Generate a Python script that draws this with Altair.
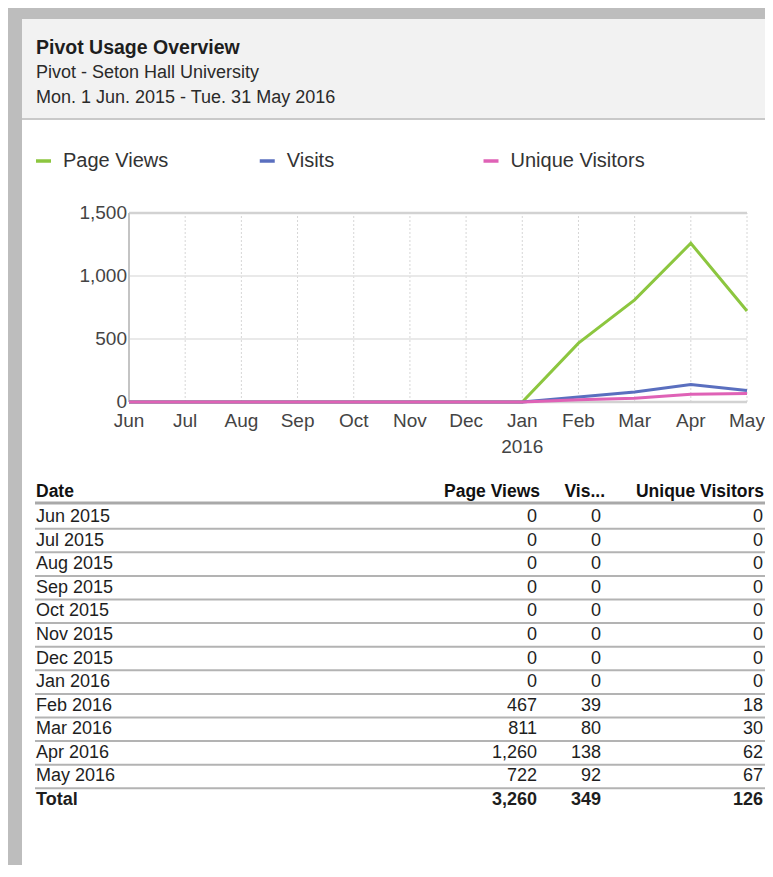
import altair as alt
import pandas as pd

# ---------------- data ----------------
title_text = "Pivot Usage Overview"
subtitle_1 = "Pivot - Seton Hall University"
subtitle_2 = "Mon.  1 Jun. 2015 - Tue. 31 May 2016"

series = ["Page Views", "Visits", "Unique Visitors"]
series_colors = ["#8cc63f", "#5a6fbf", "#df62b6"]

months = ["Jun", "Jul", "Aug", "Sep", "Oct", "Nov", "Dec", "Jan", "Feb", "Mar", "Apr", "May"]
year_label = "2016"
row_labels = ["Jun 2015", "Jul 2015", "Aug 2015", "Sep 2015", "Oct 2015", "Nov 2015",
              "Dec 2015", "Jan 2016", "Feb 2016", "Mar 2016", "Apr 2016", "May 2016"]

page_views = [0, 0, 0, 0, 0, 0, 0, 0, 467, 811, 1260, 722]
visits = [0, 0, 0, 0, 0, 0, 0, 0, 39, 80, 138, 92]
unique_visitors = [0, 0, 0, 0, 0, 0, 0, 0, 18, 30, 62, 67]

total_label = "Total"
totals = [3260, 349, 126]

y_ticks = [0, 500, 1000, 1500]
table_headers = ["Date", "Page Views", "Vis...", "Unique Visitors"]

# ---------------- tables ----------------
line_rows = []
for s, vals in zip(series, [page_views, visits, unique_visitors]):
    for i, (m, v) in enumerate(zip(months, vals)):
        line_rows.append({"month": m, "series": s, "value": v, "i": i})
line_df = pd.DataFrame(line_rows)

legend_df = pd.DataFrame({"series": series})
month_df = pd.DataFrame({"month": months})
tick_df = pd.DataFrame({"tick": y_ticks})

tbl_df = pd.DataFrame({"row": row_labels, "pv": page_views, "vis": visits, "uv": unique_visitors})
tot_df = pd.DataFrame({"row": [total_label], "pv": [totals[0]], "vis": [totals[1]], "uv": [totals[2]]})
all_rows = row_labels + [total_label]
sep_df = pd.DataFrame({"row": all_rows[1:]})

FONT = "Liberation Sans, Arial, sans-serif"
W, H = 757, 857

# ---------------- scales ----------------
xs = alt.Scale(type="point", domain=months, range=[121, 739], padding=0)
ys = alt.Scale(type="linear", domain=[0, 1500], range=[394, 205], zero=False, nice=False)
cs = alt.Scale(domain=series, range=series_colors)
leg_x = alt.Scale(type="point", domain=series, range=[35.5, 483], padding=0)
row_y = alt.Scale(type="band", domain=all_rows, range=[497.2, 803.8], paddingInner=0, paddingOuter=0)

base = alt.Chart(pd.DataFrame({"a": [0]}))

# frame and header
frame_top = base.mark_rect(color="#bdbdbd").encode(
    x=alt.value(0), x2=alt.value(W), y=alt.value(0), y2=alt.value(11))
frame_left = base.mark_rect(color="#bdbdbd").encode(
    x=alt.value(0), x2=alt.value(14), y=alt.value(0), y2=alt.value(H))
header_bg = base.mark_rect(color="#f2f2f2").encode(
    x=alt.value(14), x2=alt.value(W), y=alt.value(11), y2=alt.value(110))
header_line = base.mark_rule(color="#c9c9c9", strokeWidth=2).encode(
    x=alt.value(14), x2=alt.value(W), y=alt.value(111))

title = base.mark_text(align="left", baseline="middle", font=FONT, fontSize=19.5,
                       fontWeight="bold", color="#1e1e1e", text=title_text).encode(
    x=alt.value(28), y=alt.value(40))
sub1 = base.mark_text(align="left", baseline="middle", font=FONT, fontSize=18,
                      color="#2a2a2a", text=subtitle_1).encode(x=alt.value(28), y=alt.value(65))
sub2 = base.mark_text(align="left", baseline="middle", font=FONT, fontSize=18,
                      color="#2a2a2a", text=subtitle_2).encode(x=alt.value(28), y=alt.value(90))

# legend
leg_dash = alt.Chart(legend_df).mark_rule(strokeWidth=3.5, xOffset=-7.5, x2Offset=7.5).encode(
    x=alt.X("series:N", scale=leg_x, axis=None),
    x2="series:N",
    y=alt.value(153),
    color=alt.Color("series:N", scale=cs, legend=None),
)
leg_text = alt.Chart(legend_df).mark_text(align="left", baseline="middle", dx=19.5,
                                          font=FONT, fontSize=20, color="#333333").encode(
    x=alt.X("series:N", scale=leg_x, axis=None),
    y=alt.value(153),
    text="series:N",
)

# plot grid
vgrid = alt.Chart(month_df).mark_rule(color="#d6d6d6", strokeWidth=1, strokeDash=[2, 2]).encode(
    x=alt.X("month:O", scale=xs, axis=None),
    y=alt.Y(datum=0, type="quantitative", scale=ys, axis=None),
    y2=alt.Y2(datum=1500),
)
hgrid = alt.Chart(tick_df).mark_rule(color="#e2e2e2", strokeWidth=1.5).encode(
    y=alt.Y("tick:Q", scale=ys, axis=None),
    x=alt.X(datum="Jun", type="ordinal", scale=xs, axis=None),
    x2=alt.X2(datum="May"),
)
edge_df = pd.DataFrame({"tick": [y_ticks[0], y_ticks[-1]]})
hedge = alt.Chart(edge_df).mark_rule(color="#d2d2d2", strokeWidth=2.5).encode(
    y=alt.Y("tick:Q", scale=ys, axis=None),
    x=alt.X(datum="Jun", type="ordinal", scale=xs, axis=None),
    x2=alt.X2(datum="May"),
)
ydomain = base.mark_rule(color="#c4c4c4", strokeWidth=2).encode(
    x=alt.X(datum="Jun", type="ordinal", scale=xs, axis=None),
    y=alt.Y(datum=0, type="quantitative", scale=ys, axis=None),
    y2=alt.Y2(datum=1500),
)

lines = alt.Chart(line_df).mark_line(strokeWidth=3).encode(
    x=alt.X("month:O", scale=xs, axis=None),
    y=alt.Y("value:Q", scale=ys, axis=None),
    color=alt.Color("series:N", scale=cs, legend=None),
    order=alt.Order("i:Q"),
)

ylabels = alt.Chart(tick_df).mark_text(align="right", baseline="middle", font=FONT,
                                       fontSize=19, color="#444444").encode(
    y=alt.Y("tick:Q", scale=ys, axis=None),
    x=alt.value(119),
    text=alt.Text("tick:Q", format=","),
)
xlabels = alt.Chart(month_df).mark_text(align="center", baseline="middle", font=FONT,
                                        fontSize=19, color="#444444").encode(
    x=alt.X("month:O", scale=xs, axis=None),
    y=alt.value(413),
    text="month:N",
)
yearlabel = base.mark_text(align="center", baseline="middle", font=FONT, fontSize=19,
                           color="#444444", text=year_label).encode(
    x=alt.X(datum="Jan", type="ordinal", scale=xs, axis=None),
    y=alt.value(439),
)

# table
TX = {"date": 28, "pv": 529, "vis": 593, "uv": 755}
HX = {"date": 28, "pv": 532, "vis": 597, "uv": 756}
hdr_layers = []
for key, label, align in zip(["date", "pv", "vis", "uv"], table_headers,
                             ["left", "right", "right", "right"]):
    hdr_layers.append(base.mark_text(align=align, baseline="middle", font=FONT, fontSize=17.5,
                                     fontWeight="bold", color="#111111", text=label).encode(
        x=alt.value(HX[key]), y=alt.value(484)))

hdr_rule = base.mark_rule(color="#a9a9a9", strokeWidth=3).encode(
    x=alt.value(27), x2=alt.value(W), y=alt.value(495))
sep_rules = alt.Chart(sep_df).mark_rule(color="#b3b3b3", strokeWidth=2).encode(
    y=alt.Y("row:N", scale=row_y, axis=None, bandPosition=0),
    x=alt.value(27), x2=alt.value(W),
)


def table_text(df, weight):
    layers = []
    layers.append(alt.Chart(df).mark_text(align="left", baseline="middle", font=FONT,
                                          fontSize=18, fontWeight=weight, color="#1e1e1e").encode(
        y=alt.Y("row:N", scale=row_y, axis=None, bandPosition=0.5),
        x=alt.value(TX["date"]), text="row:N"))
    for key in ["pv", "vis", "uv"]:
        layers.append(alt.Chart(df).mark_text(align="right", baseline="middle", font=FONT,
                                              fontSize=18, fontWeight=weight, color="#1e1e1e").encode(
            y=alt.Y("row:N", scale=row_y, axis=None, bandPosition=0.5),
            x=alt.value(TX[key]), text=alt.Text(f"{key}:Q", format=",")))
    return layers


chart = alt.layer(
    frame_top, frame_left, header_bg, header_line, title, sub1, sub2,
    leg_dash, leg_text,
    vgrid, hgrid, hedge, ydomain, lines, ylabels, xlabels, yearlabel,
    *hdr_layers, hdr_rule, sep_rules,
    *table_text(tbl_df, "normal"), *table_text(tot_df, "bold"),
).resolve_scale(
    x="independent", y="independent"
).properties(
    width=W, height=H, autosize=alt.AutoSizeParams(type="none"), padding=0,
    background="#ffffff",
).configure_view(stroke=None)

chart.save("out.html", embed_options={"renderer": "svg", "actions": False})
